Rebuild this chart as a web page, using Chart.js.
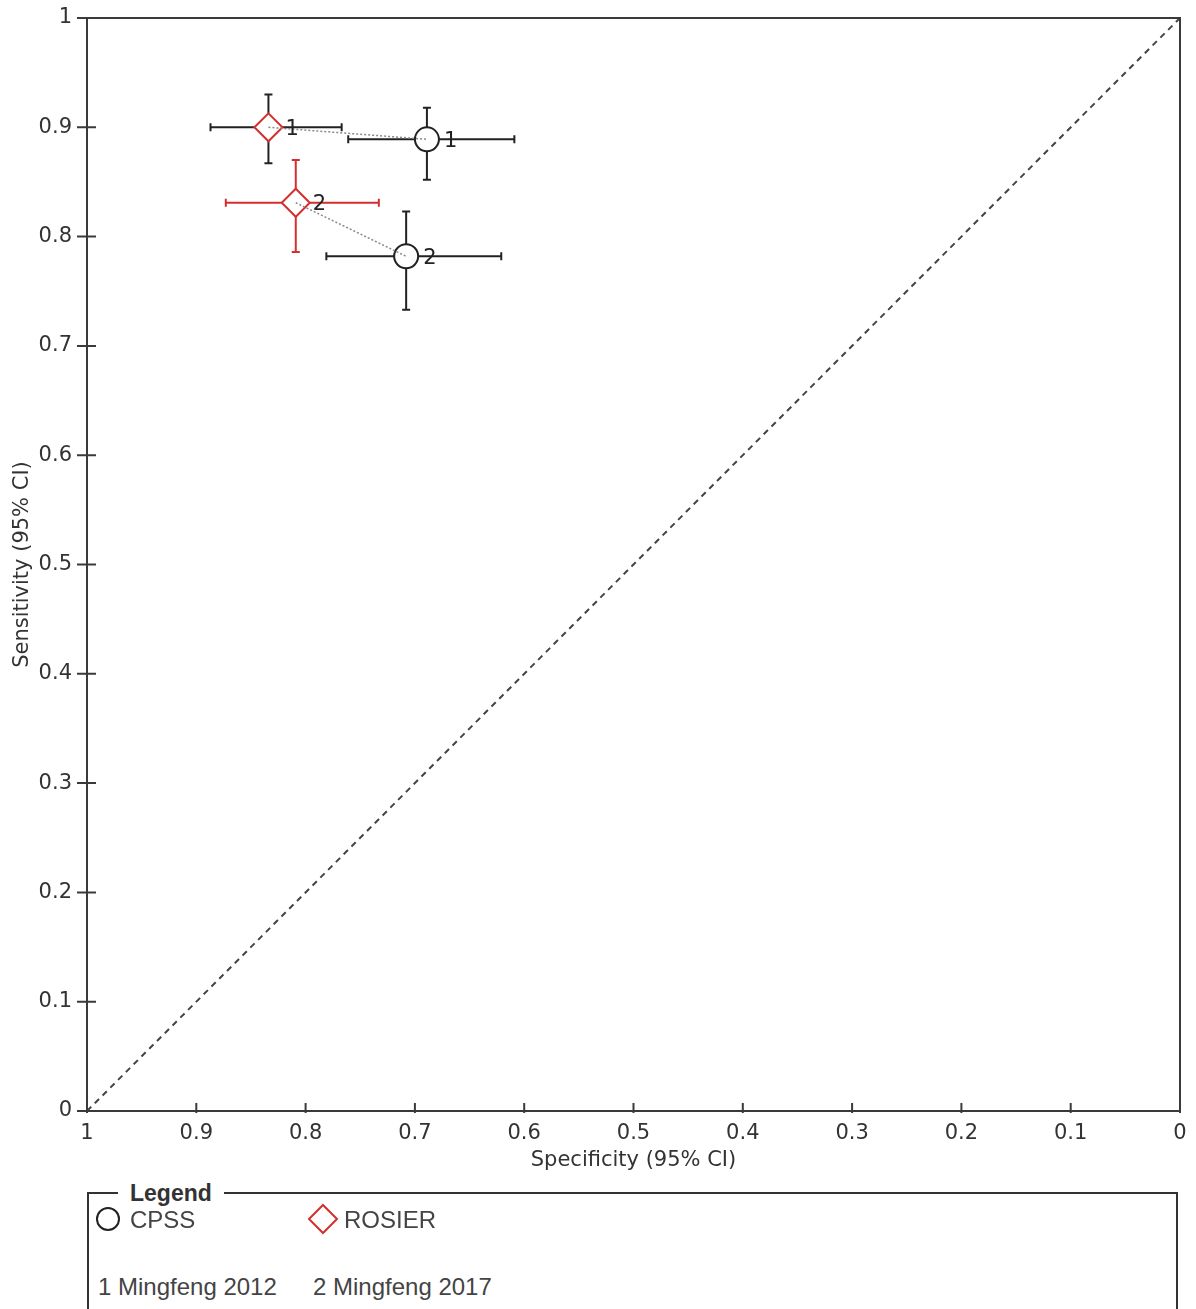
<!DOCTYPE html>
<html>
<head>
<meta charset="utf-8">
<title>SROC plot - CPSS vs ROSIER</title>
<script src="https://cdn.jsdelivr.net/npm/chart.js@4.4.1/dist/chart.umd.min.js"></script>
<style>
  html, body { margin: 0; padding: 0; background: #fff; }
  #wrap { position: relative; width: 1196px; height: 1309px; overflow: hidden; }
  #chartBox { position: absolute; left: 0; top: 0; width: 1196px; height: 1180px; }

  /* legend box under the plot */
  .legend-box {
    position: absolute; left: 87px; top: 1192px;
    width: 1087px; height: 200px;
    border: 2px solid #333;
    font-family: 'Liberation Sans', Arial, sans-serif; color: #444;
  }
  .legend-title {
    position: absolute; left: 29px; top: -15px; padding: 0 12px;
    background: #fff; color: #333;
    font-weight: bold; font-size: 23px; line-height: 28px;
  }
  .legend-box svg { position: absolute; }
  .legend-text { position: absolute; font-size: 24px; line-height: 28px; white-space: nowrap; }
</style>
</head>
<body>
<div id="wrap">
  <div id="chartBox"><canvas id="sroc"></canvas></div>

  <div class="legend-box">
    <span class="legend-title">Legend</span>
    <svg style="left:6px; top:12px" width="26" height="26"><circle cx="13" cy="13" r="11" fill="none" stroke="#222" stroke-width="2"/></svg>
    <span class="legend-text" id="lg-test-0" style="left:41px; top:12px"></span>
    <svg style="left:218px; top:9px" width="32" height="32"><polygon points="16,2 30,16 16,30 2,16" fill="none" stroke="#d32f2f" stroke-width="2"/></svg>
    <span class="legend-text" id="lg-test-1" style="left:255px; top:12px"></span>
    <span class="legend-text" id="lg-study-0" style="left:9px; top:79px"></span>
    <span class="legend-text" id="lg-study-1" style="left:224px; top:79px"></span>
  </div>
</div>

<script>
/* ── Data ── */
const tests        = ['CPSS', 'ROSIER'];
const studies      = ['Mingfeng 2012', 'Mingfeng 2017'];
const studyNumbers = ['1', '2'];

const cpssSpec     = [0.689, 0.708];
const cpssSpecLo   = [0.609, 0.621];
const cpssSpecHi   = [0.761, 0.781];
const cpssSens     = [0.889, 0.782];
const cpssSensLo   = [0.852, 0.733];
const cpssSensHi   = [0.918, 0.823];

const rosierSpec   = [0.834, 0.809];
const rosierSpecLo = [0.767, 0.733];
const rosierSpecHi = [0.887, 0.873];
const rosierSens   = [0.900, 0.831];
const rosierSensLo = [0.867, 0.786];
const rosierSensHi = [0.930, 0.870];

const axisTicks      = [0, 0.1, 0.2, 0.3, 0.4, 0.5, 0.6, 0.7, 0.8, 0.9, 1];
const axisTickLabels = ['0', '0.1', '0.2', '0.3', '0.4', '0.5', '0.6', '0.7', '0.8', '0.9', '1'];

/* ── Helpers ── */
function buildPoints(spec, specLo, specHi, sens, sensLo, sensHi) {
  return spec.map((s, i) => ({
    x: s, y: sens[i],
    xMin: specLo[i], xMax: specHi[i],
    yMin: sensLo[i], yMax: sensHi[i],
  }));
}
const tickLabel = v => axisTickLabels[axisTicks.indexOf(v)];

// fill the HTML legend texts
tests.forEach((t, i) => { document.getElementById('lg-test-' + i).textContent = t; });
studies.forEach((s, i) => { document.getElementById('lg-study-' + i).textContent = studyNumbers[i] + ' ' + s; });

/* ── Plugin: frame + tick marks crossing the axes ── */
const frameAndTicks = {
  id: 'frameAndTicks',
  afterDraw(chart) {
    const { ctx, chartArea: a, scales: { x, y } } = chart;
    ctx.save();
    ctx.strokeStyle = '#3a3a3a';
    ctx.lineWidth = 2;
    ctx.strokeRect(a.left, a.top, a.right - a.left, a.bottom - a.top);
    ctx.beginPath();
    axisTicks.forEach(v => {
      const px = x.getPixelForValue(v);
      ctx.moveTo(px, a.bottom - 8); ctx.lineTo(px, a.bottom + 2);
      const py = y.getPixelForValue(v);
      ctx.moveTo(a.left - 10, py); ctx.lineTo(a.left + 9, py);
    });
    ctx.stroke();
    ctx.restore();
  }
};

/* ── Plugin: 95% CI error bars (drawn under the markers) ── */
const errorBars = {
  id: 'errorBars',
  beforeDatasetsDraw(chart) {
    const { ctx, scales: { x, y } } = chart;
    const cap = 4;
    chart.data.datasets.forEach(ds => {
      if (!ds.barColors) return;
      ds.data.forEach((p, i) => {
        const px = x.getPixelForValue(p.x), py = y.getPixelForValue(p.y);
        const x0 = x.getPixelForValue(p.xMin), x1 = x.getPixelForValue(p.xMax);
        const y0 = y.getPixelForValue(p.yMin), y1 = y.getPixelForValue(p.yMax);
        ctx.save();
        ctx.strokeStyle = ds.barColors[i];
        ctx.lineWidth = 2;
        ctx.beginPath();
        ctx.moveTo(x0, py); ctx.lineTo(x1, py);
        ctx.moveTo(x0, py - cap); ctx.lineTo(x0, py + cap);
        ctx.moveTo(x1, py - cap); ctx.lineTo(x1, py + cap);
        ctx.moveTo(px, y0); ctx.lineTo(px, y1);
        ctx.moveTo(px - cap, y0); ctx.lineTo(px + cap, y0);
        ctx.moveTo(px - cap, y1); ctx.lineTo(px + cap, y1);
        ctx.stroke();
        ctx.restore();
      });
    });
  }
};

/* ── Plugin: study numbers next to each marker ── */
const studyLabels = {
  id: 'studyLabels',
  afterDatasetsDraw(chart) {
    const { ctx, scales: { x, y } } = chart;
    ctx.save();
    ctx.font = '21px "DejaVu Sans"';
    ctx.fillStyle = '#222';
    ctx.textBaseline = 'middle';
    chart.data.datasets.forEach(ds => {
      if (!ds.barColors) return;
      ds.data.forEach((p, i) => {
        ctx.fillText(studyNumbers[i], x.getPixelForValue(p.x) + 17, y.getPixelForValue(p.y) + 2);
      });
    });
    ctx.restore();
  }
};

/* ── Chart ── */
const tickFont  = { family: 'DejaVu Sans', size: 21 };
const titleFont = { family: 'DejaVu Sans', size: 21 };

const pairLines = studies.map((s, i) => ({
  label: s,
  data: [{ x: rosierSpec[i], y: rosierSens[i] }, { x: cpssSpec[i], y: cpssSens[i] }],
  showLine: true,
  borderColor: '#8a8a8a',
  borderWidth: 1.5,
  borderDash: [2, 2],
  pointRadius: 0,
}));

new Chart(document.getElementById('sroc'), {
  type: 'scatter',
  data: {
    datasets: [
      ...pairLines,
      {
        label: tests[1],
        data: buildPoints(rosierSpec, rosierSpecLo, rosierSpecHi, rosierSens, rosierSensLo, rosierSensHi),
        pointStyle: 'rectRot',
        pointRadius: 14,
        borderWidth: 2,
        borderColor: '#d32f2f',
        backgroundColor: '#fff',
        barColors: ['#222', '#d32f2f'],
      },
      {
        label: tests[0],
        data: buildPoints(cpssSpec, cpssSpecLo, cpssSpecHi, cpssSens, cpssSensLo, cpssSensHi),
        pointStyle: 'circle',
        pointRadius: 12,
        borderWidth: 2,
        borderColor: '#222',
        backgroundColor: '#fff',
        barColors: ['#222', '#222'],
      },
      {
        label: 'diagonal',
        data: [{ x: 1, y: 0 }, { x: 0, y: 1 }],
        showLine: true,
        borderColor: '#444',
        borderWidth: 2,
        borderDash: [6, 5],
        pointRadius: 0,
      },
    ],
  },
  options: {
    responsive: true, maintainAspectRatio: false,
    animation: false,
    layout: { padding: { top: 18, right: 16, left: 0, bottom: 0 } },
    plugins: {
      legend: { display: false },
      tooltip: { enabled: false },
    },
    scales: {
      x: {
        type: 'linear', reverse: true, min: 0, max: 1,
        afterBuildTicks: s => { s.ticks = axisTicks.map(v => ({ value: v })); },
        afterFit: s => { s.height = 69; s.paddingLeft = 0; s.paddingRight = 0; },
        grid: { display: false, drawTicks: false },
        border: { display: false },
        ticks: { padding: 10, color: '#333', font: tickFont, maxRotation: 0, autoSkip: false, callback: v => tickLabel(v) },
        title: { display: true, text: 'Specificity (95% CI)', color: '#333', font: titleFont, padding: { top: 0, bottom: 7 } },
      },
      y: {
        type: 'linear', min: 0, max: 1,
        afterBuildTicks: s => { s.ticks = axisTicks.map(v => ({ value: v })); },
        afterFit: s => { s.width = 87; s.paddingTop = 0; s.paddingBottom = 0; },
        grid: { display: false, drawTicks: false },
        border: { display: false },
        ticks: { padding: 15, color: '#333', font: tickFont, autoSkip: false, callback: v => tickLabel(v) },
        title: { display: true, text: 'Sensitivity (95% CI)', color: '#333', font: titleFont, padding: { top: 10, bottom: 0 } },
      },
    },
  },
  plugins: [errorBars, studyLabels, frameAndTicks],
});
</script>
</body>
</html>
